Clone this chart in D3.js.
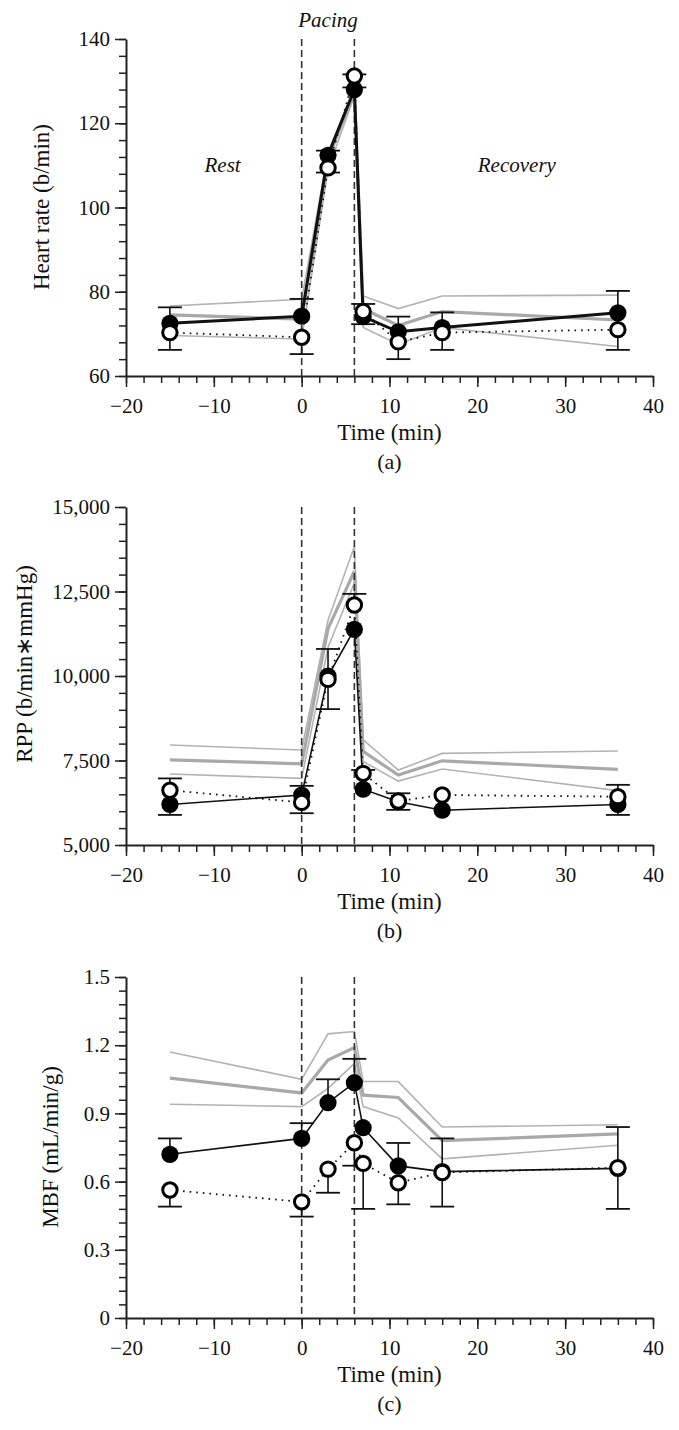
<!DOCTYPE html>
<html>
<head>
<meta charset="utf-8">
<script src="https://cdn.jsdelivr.net/npm/d3@7"></script>
<style>
  html, body { margin: 0; padding: 0; background: #fff; }
  svg { display: block; }
  text { font-family: "Liberation Serif", "Times New Roman", serif; fill: #111; }
</style>
</head>
<body>
<svg id="chart" width="679" height="1430"></svg>
<script>
// ---------- DATA ----------
const times = [-15, 0, 3, 6, 7, 11, 16, 36];
const xTicks = [-20, -10, 0, 10, 20, 30, 40];
const pacingStart = 0, pacingEnd = 6;

// (a) Heart rate (b/min)
const hrTicks = [60, 80, 100, 120, 140];
const hrFilled    = [72.5, 74.2, 112.4, 128.0, 74.1, 70.5, 71.5, 75.0];
const hrOpen      = [70.3, 69.2, 109.4, 131.2, 75.3, 68.1, 70.3, 71.0];
const hrFilledBar = [76.3, 78.3, 113.5, 128.5, 72.3, 74.1, 75.1, 80.2];
const hrOpenBar   = [66.2, 65.2, 108.3, 131.6, 77.1, 64.0, 66.2, 66.2];
const hrGrayUpper = [76.6, 78.2, 113.0, 128.5, 79.0, 76.0, 79.0, 79.2];
const hrGrayMean  = [74.5, 73.5, 111.5, 127.5, 76.0, 72.0, 75.3, 73.3];
const hrGrayLower = [69.6, 68.8, 109.0, 126.5, 71.5, 67.5, 71.5, 67.0];

// (b) RPP (b/min*mmHg)
const rppTicks = [5000, 7500, 10000, 12500, 15000];
const rppFilled    = [6200, 6480, 10000, 11380, 6650, 6280, 6030, 6200];
const rppOpen      = [6620, 6260, 9900, 12100, 7120, 6300, 6480, 6430];
const rppFilledBar = [5890, 6750, 10800, null, null, 6040, null, 5890];
const rppOpenBar   = [6970, 5940, 9020, 12430, 7220, 6530, null, 6780];
const rppGrayUpper = [7960, 7810, 11650, 13830, 8110, 7220, 7710, 7780];
const rppGrayMean  = [7520, 7400, 11400, 13100, 7770, 7070, 7490, 7240];
const rppGrayLower = [7100, 6970, 10850, 12750, 7470, 6890, 7250, 6610];

// (c) MBF (mL/min/g)
const mbfTicks = [0, 0.3, 0.6, 0.9, 1.2, 1.5];
const mbfFilled    = [0.72, 0.79, 0.947, 1.035, 0.837, 0.669, 0.644, 0.658];
const mbfOpen      = [0.563, 0.511, 0.655, 0.771, 0.68, 0.595, 0.64, 0.661];
const mbfFilledBar = [0.79, 0.857, 1.05, 1.14, null, 0.77, 0.79, 0.84];
const mbfOpenBar   = [0.49, 0.446, 0.551, 0.67, 0.48, 0.50, 0.49, 0.48];
const mbfGrayUpper = [1.17, 1.05, 1.25, 1.26, 1.04, 1.04, 0.84, 0.85];
const mbfGrayMean  = [1.055, 0.99, 1.135, 1.19, 0.98, 0.97, 0.78, 0.81];
const mbfGrayLower = [0.94, 0.93, 1.01, 1.12, 0.93, 0.88, 0.70, 0.76];

// ---------- DRAW ----------
const svg = d3.select("#chart");
svg.append("rect").attr("width", 679).attr("height", 1430).attr("fill", "#fff");

const x = d3.scaleLinear().domain([-20, 40]).range([126, 653]);

function panel(cfg) {
  const g = svg.append("g");
  const y = d3.scaleLinear().domain(cfg.domain).range(cfg.range);
  const y0 = cfg.range[0], y1 = cfg.range[1];

  // minor ticks
  const nMinorY = Math.round((cfg.domain[1] - cfg.domain[0]) / cfg.minor);
  const minorY = d3.range(nMinorY + 1).map(i => cfg.domain[0] + i * cfg.minor);
  g.append("g").attr("transform", `translate(${x.range()[0]},0)`)
    .call(d3.axisLeft(y).tickValues(minorY).tickSize(7).tickSizeOuter(0).tickFormat(""))
    .call(s => s.select(".domain").remove())
    .call(s => s.selectAll("line").attr("stroke", "#222").attr("stroke-width", 1.5));
  g.append("g").attr("transform", `translate(0,${y0})`)
    .call(d3.axisBottom(x).tickValues(d3.range(-20, 41, 2)).tickSize(7).tickSizeOuter(0).tickFormat(""))
    .call(s => s.select(".domain").remove())
    .call(s => s.selectAll("line").attr("stroke", "#222").attr("stroke-width", 1.5));

  // major axes
  const ya = g.append("g").attr("transform", `translate(${x.range()[0]},0)`)
    .call(d3.axisLeft(y).tickValues(cfg.ticks).tickSize(11).tickSizeOuter(0).tickPadding(5).tickFormat(cfg.fmt));
  const xa = g.append("g").attr("transform", `translate(0,${y0})`)
    .call(d3.axisBottom(x).tickValues(xTicks).tickSize(11).tickSizeOuter(0).tickPadding(11));
  [ya, xa].forEach(a => {
    a.select(".domain").attr("stroke", "#222").attr("stroke-width", 2);
    a.selectAll("line").attr("stroke", "#222").attr("stroke-width", 1.5);
    a.selectAll("text").attr("font-size", 21).attr("font-family", "Liberation Serif, serif").attr("fill", "#111");
  });

  // axis titles
  g.append("text").attr("x", 389.5).attr("y", y0 + 64).attr("text-anchor", "middle")
    .attr("font-size", 23).text("Time (min)");
  g.append("text").attr("x", 389.5).attr("y", y0 + 93).attr("text-anchor", "middle")
    .attr("font-size", 22).text(cfg.tag);
  g.append("text")
    .attr("transform", `translate(${cfg.labelX},${cfg.labelY}) rotate(-90)`)
    .attr("text-anchor", "middle").attr("font-size", 23).text(cfg.ylabel);

  const line = d3.line().x((d, i) => x(times[i])).y(d => y(d));

  // gray reference band lines
  [cfg.grayUpper, cfg.grayLower].forEach(arr => {
    g.append("path").datum(arr).attr("d", line).attr("fill", "none")
      .attr("stroke", "#b3b3b3").attr("stroke-width", 1.6);
  });
  g.append("path").datum(cfg.grayMean).attr("d", line).attr("fill", "none")
    .attr("stroke", "#a9a9a9").attr("stroke-width", 3.2);

  // pacing dashed lines
  [pacingStart, pacingEnd].forEach(t => {
    g.append("line").attr("x1", x(t)).attr("x2", x(t)).attr("y1", y1).attr("y2", y0)
      .attr("stroke", "#333").attr("stroke-width", 1.6).attr("stroke-dasharray", "7,4");
  });

  // series lines
  g.append("path").datum(cfg.open).attr("d", line).attr("fill", "none")
    .attr("stroke", "#111").attr("stroke-width", 1.8).attr("stroke-dasharray", "1.6,5");
  g.append("path").datum(cfg.filled).attr("d", line).attr("fill", "none")
    .attr("stroke", "#111").attr("stroke-width", cfg.solidWidth);

  // error bars
  function bars(vals, ends) {
    ends.forEach((e, i) => {
      if (e == null) return;
      const cx = x(times[i]);
      g.append("line").attr("x1", cx).attr("x2", cx).attr("y1", y(vals[i])).attr("y2", y(e))
        .attr("stroke", "#111").attr("stroke-width", 1.6);
      g.append("line").attr("x1", cx - 12).attr("x2", cx + 12).attr("y1", y(e)).attr("y2", y(e))
        .attr("stroke", "#111").attr("stroke-width", 1.8);
    });
  }
  bars(cfg.filled, cfg.filledBar);
  bars(cfg.open, cfg.openBar);

  // markers
  g.selectAll(".f").data(cfg.filled).enter().append("circle")
    .attr("cx", (d, i) => x(times[i])).attr("cy", d => y(d)).attr("r", 8.6)
    .attr("fill", "#000");
  g.selectAll(".o").data(cfg.open).enter().append("circle")
    .attr("cx", (d, i) => x(times[i])).attr("cy", d => y(d)).attr("r", 7.2)
    .attr("fill", "#fff").attr("stroke", "#000").attr("stroke-width", 3);

  return { g, y };
}

const pa = panel({
  domain: [60, 140], range: [376, 39], ticks: hrTicks, minor: 4, fmt: d3.format("d"),
  tag: "(a)", ylabel: "Heart rate (b/min)", labelX: 49, labelY: 207,
  filled: hrFilled, open: hrOpen, filledBar: hrFilledBar, openBar: hrOpenBar,
  grayUpper: hrGrayUpper, grayMean: hrGrayMean, grayLower: hrGrayLower, solidWidth: 3
});
pa.g.append("text").attr("x", (x(pacingStart) + x(pacingEnd)) / 2).attr("y", 27)
  .attr("text-anchor", "middle").attr("font-size", 21).attr("font-style", "italic").text("Pacing");
pa.g.append("text").attr("x", x(-9)).attr("y", 172)
  .attr("text-anchor", "middle").attr("font-size", 21).attr("font-style", "italic").text("Rest");
pa.g.append("text").attr("x", x(24.5)).attr("y", 172)
  .attr("text-anchor", "middle").attr("font-size", 21).attr("font-style", "italic").text("Recovery");

panel({
  domain: [5000, 15000], range: [845, 507], ticks: rppTicks, minor: 500, fmt: d3.format(","),
  tag: "(b)", ylabel: "RPP (b/min\u2217mmHg)", labelX: 32, labelY: 664,
  filled: rppFilled, open: rppOpen, filledBar: rppFilledBar, openBar: rppOpenBar,
  grayUpper: rppGrayUpper, grayMean: rppGrayMean, grayLower: rppGrayLower, solidWidth: 1.6
});

panel({
  domain: [0, 1.5], range: [1318, 977], ticks: mbfTicks, minor: 0.06,
  fmt: d => d === 0 ? "0" : d3.format(".1f")(d),
  tag: "(c)", ylabel: "MBF (mL/min/g)", labelX: 58, labelY: 1147,
  filled: mbfFilled, open: mbfOpen, filledBar: mbfFilledBar, openBar: mbfOpenBar,
  grayUpper: mbfGrayUpper, grayMean: mbfGrayMean, grayLower: mbfGrayLower, solidWidth: 1.6
});
</script>
</body>
</html>
